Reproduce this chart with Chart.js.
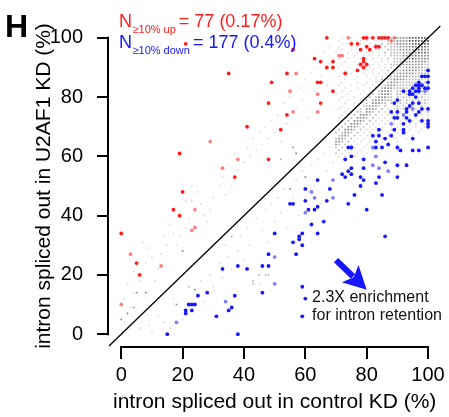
<!DOCTYPE html>
<html>
<head>
<meta charset="utf-8">
<script src="https://cdn.jsdelivr.net/npm/chart.js@4.4.0/dist/chart.umd.min.js"></script>
<style>
  html, body { margin: 0; padding: 0; background: #fff; }
  canvas { display: block; }
</style>
</head>
<body>
<canvas id="myChart" width="449" height="417"></canvas>
<script>
const xTicks = [0, 20, 40, 60, 80, 100];
const yTicks = [0, 20, 40, 60, 80, 100];

// [control KD %, U2AF1 KD %]
const upPoints = [[21,98],[19,61],[20,48],[17,42],[19,40],[0,34],[5,24],[6,20],[35,88],[41,70],[48,78],[49,85],[52,69],[54,74],[54,88],[56,96],[63,93],[64,85],[65,85],[65,92],[65,78],[67,100],[67,90],[69,92],[69,90],[69,82],[73,88],[75,98],[77,98],[77,89],[78,91],[79,93],[79,92],[79,90],[80,91],[79,100],[80,100],[82,100],[84,100],[85,100],[86,100],[87,100],[80,97],[83,97],[84,97],[81,96],[78,96],[48,59],[37,53]];
const upPointsFaint = [[29,65],[24,42],[24,36],[23,35],[3,27],[13,23],[0,10],[38,59],[33,56],[57,88],[55,82],[64,81],[56,75],[64,75],[74,100],[88,99],[89,100],[71,94],[72,94]];
const downPoints = [[28,14],[25,13],[22,10],[23,10],[24,10],[21,8],[21,7],[23,8],[15,0],[31,6],
  [56,31],[59,30],[48,27],[57,27],[33,22],[38,23],[41,22],[46,23],[48,23],[59,16],[46,14],[37,13],[36,9],[35,8],[38,0],[60,12],[59,6],
  [64,52],[60,49],[68,49],[60,45],[67,45],[55,44],[56,44],[61,42],[63,42],[64,43],[66,38],[62,37],[59,34],[64,34],[50,34],[58,33],[58,32],
  [82,67],[84,67],[88,67],[86,66],[92,68],[95,66],[83,65],[74,63],[75,63],[83,63],[85,63],[87,64],[90,63],[91,62],[95,62],[97,62],[100,63],
  [75,60],[73,59],[79,59],[86,58],[90,57],[93,57],[75,56],[79,56],[74,55],[72,54],[75,54],[73,53],[78,53],[84,53],[90,53],[79,52],[83,51],
  [78,50],[76,47],[85,47],[74,44],[80,42],[86,33],
  [100,89],[100,87],[99,87],[98,87],[97,85],[100,85],[96,84],[97,84],[98,84],[95,83],[97,83],[99,83],[100,83],[92,82],[94,82],[96,82],
  [97,82],[95,81],[94,81],[96,80],[90,79],[89,78],[95,78],[97,78],[94,77],[93,76],[98,76],[88,75],[90,75],[93,75],[96,74],[97,75],
  [100,76],[93,73],[94,72],[98,72],[100,72],[100,71],[100,70],[89,73],[90,73],[92,71],[84,69],[89,69],[92,69]];
const downPointsFaint = [[18,4],[50,26],[50,17],[34,11],[62,48],[63,46],[60,41],[69,52],[69,46],[82,63],[83,60],[82,57],[84,56],[87,55],[99,82],[95,76],[92,74],[88,71]];

// unchanged introns: [control, U2AF1, shade 1-4]
const otherPoints = [[1,4,1],[2,7,3],[0,5,3],[1,12,1],[3,9,1],[4,9,3],[4,14,1],[5,14,3],[8,14,3],[2,17,1],[6,18,1],[4,21,1],[8,24,1],
  [10,26,1],[7,31,1],[9,29,1],[12,22,1],[11,18,1],[13,27,1],[15,30,1],[14,33,1],[16,37,1],[17,34,1],[18,30,1],[20,28,3],[19,33,1],
  [21,36,1],[22,39,1],[23,45,1],[21,45,1],[25,48,1],[23,50,1],[26,44,1],[27,40,1],[28,38,1],[29,42,1],[31,31,1],[30,46,1],[32,50,1],
  [33,53,1],[34,47,1],[35,57,1],[36,50,1],[37,61,1],[38,55,1],[40,58,1],[41,63,1],[42,60,1],[43,66,1],[44,62,1],[45,68,1],[46,64,1],
  [47,70,1],[48,66,1],[49,72,1],[50,68,1],[51,74,1],[52,65,1],[53,78,1],[54,71,1],[55,80,1],[56,63,3],[57,76,1],[58,83,1],[59,79,1],
  [60,86,1],[61,73,1],[62,88,1],[63,82,1],[64,90,1],[65,87,1],[66,95,1],[67,84,1],[68,97,1],[69,93,1],[52,59,2],[57,61,3],
  [6,2,1],[9,3,1],[10,1,1],[12,6,1],[14,4,1],[16,2,1],[18,10,3],[17,12,1],[20,5,1],[24,15,3],[26,18,1],[27,11,1],[29,20,1],[30,16,1],
  [32,24,1],[33,19,1],[35,26,1],[34,30,1],[36,22,1],[38,28,1],[39,33,1],[40,25,1],[41,36,1],[42,30,1],[43,18,2],[45,20,2],[47,20,2],
  [43,17,2],[45,17,1],[44,39,1],[46,35,1],[47,42,1],[48,31,1],[49,44,1],[50,38,1],[51,46,1],[52,41,1],[53,49,1],[54,36,1],[55,49,3],
  [56,46,1],[57,52,1],[58,40,1],[59,55,1],[60,53,3],[61,48,1],[62,57,1],[63,50,1],[64,59,1],[65,44,1],[66,61,1],[67,55,1],[68,63,1],
  [69,58,1],[22,16,2],[36,33,2],[48,20,2]];

// crowded corner: one row per U2AF1 value (100 down to 60), one char per control value (70..100)
const cornerStartX = 70;
const cornerTopY = 100;
const cornerRows = [
  "..1..1..1..1.1.12.2233334444445",
  ".1...1..1.1..1.1.22233334444445",
  "..1.1...1..1.1.2.22233333444444",
  ".1...1.1..1.1.1.2.2223333444443",
  "..1..1...1.1.1.1.22223333344433",
  "1...1..1..1.1.1.2.2222333334443",
  "..1...1..1.1..1.1.2222333343333",
  ".1..1...1.1.1..1.2.222233433333",
  "...1..1...1..1.1.1.222233333332",
  "..1....1.1..1.1.1.2222333333322",
  ".1..1...1..1..1.1.2.22233333322",
  "...1...1..1.1..1.2.222333332222",
  "..1..1...1..1.1.1.2223333322222",
  ".1.....1..1..1.1.22233332222221",
  "...1..1....1.1.2.22333322222212",
  "..1....1..1..1.2.23332222222121",
  ".1...1...1..1.2.2333222222212121",
  "...1...1...1.2.2333222221212121",
  "..1..1...1..2.23332.22212121212",
  "1...1...1.1.2.23332.22121212121",
  "..1...1..1.2.233322.21212121211",
  ".1..1...1.2.2333222.12121212121",
  "...1..1.2.2.33322.2.1212121.121",
  "..1....2.223332.2..1212121.1211",
  ".1..1.2.2.3332.2.1.121211.1.211",
  "...1.2.22.332.2.1.1.21.1.1.1.12",
  "..1.2.2.3332.2.1.1.12.1.1.1.1.1",
  ".1.2.2.3332.2.1.1.1.1.1.1.1.1.1",
  "..2.2.3332.2.1.1.1.1.1.1.1.1.1.",
  ".2.2.3332.2.1.1.1..1.1..1.1..1.",
  "2.2.3332.2.1.1.1..1.1..1..1..1.",
  ".2.3332.2.1.1..1..1..1..1...1..",
  "2.2332.2.1.1..1..1..1..1...1...",
  ".2332.2.1.1..1...1...1...1.....",
  "2332.2.1.1..1..1...1...1.......",
  "332.2.1.1..1...1....1..........",
  "32.2.1.1..1...1.....1..........",
  "2.2.1.1..1...1.................",
  ".2.1.1..1...1..................",
  "2.1.1..1..1....................",
  ".1.1..1..1....................."
];

const diagonal = [-4, 104];
const arrowFrom = [70, 25];
const arrowTo = [80, 15];
const noteLines = ['2.3X enrichment', 'for intron retention'];
const notePos = [[62.2, 12.5], [62.2, 6.1]];

const FONT = '"Liberation Sans", Arial, Helvetica, sans-serif';
const RED = 'rgb(255,28,28)';
const RED_FAINT = 'rgba(255,28,28,0.55)';
const BLUE = 'rgb(22,22,255)';
const BLUE_FAINT = 'rgba(22,22,255,0.55)';
const grayShades = ['rgba(0,0,0,0)', 'rgba(0,0,0,0.13)', 'rgba(0,0,0,0.28)', 'rgba(0,0,0,0.46)', 'rgba(0,0,0,0.64)', 'rgba(0,0,0,0.8)'];

function toXY(list) {
    return list.map(p => ({x: p[0], y: p[1]}));
}

let grayData = [];
let grayColors = [];
otherPoints.forEach(p => {
    grayData.push({x: p[0], y: p[1]});
    grayColors.push(grayShades[p[2]]);
});
cornerRows.forEach((row, r) => {
    for (let i = 0; i < row.length && i <= 30; i++) {
        const c = row[i];
        if (c === '.') continue;
        grayData.push({x: cornerStartX + i, y: cornerTopY - r});
        grayColors.push(grayShades[+c]);
    }
});

// range-frame axes, panel letter, counts, arrow and note
const extras = {
    id: 'extras',
    afterDraw(chart) {
        const ctx = chart.ctx;
        const xs = chart.scales.x, ys = chart.scales.y;
        const area = chart.chartArea;
        ctx.save();

        ctx.strokeStyle = '#000';
        ctx.lineWidth = 2;
        ctx.beginPath();
        ctx.moveTo(area.left - 1, ys.getPixelForValue(0) + 1);
        ctx.lineTo(area.left - 1, ys.getPixelForValue(100) - 1);
        ctx.moveTo(xs.getPixelForValue(0) - 1, area.bottom + 1);
        ctx.lineTo(xs.getPixelForValue(100) + 1, area.bottom + 1);
        ctx.stroke();

        ctx.fillStyle = '#000';
        ctx.font = 'bold 32px ' + FONT;
        ctx.textBaseline = 'alphabetic';
        ctx.textAlign = 'left';
        ctx.fillText('H', 5, 37);

        function countLine(color, sub, rest, y) {
            ctx.fillStyle = color;
            ctx.font = '18px ' + FONT;
            ctx.fillText('N', 119, y);
            let x = 119 + ctx.measureText('N').width + 0.5;
            ctx.font = '11px ' + FONT;
            ctx.fillText(sub, x, y + 6);
            x += ctx.measureText(sub).width + 3;
            ctx.font = '18px ' + FONT;
            ctx.fillText(rest, x, y);
        }
        countLine(RED, '\u226510% up', '= 77 (0.17%)', 27);
        countLine(BLUE, '\u226510% down', '= 177 (0.4%)', 48);

        // arrow
        const x0 = xs.getPixelForValue(arrowFrom[0]), y0 = ys.getPixelForValue(arrowFrom[1]);
        const x1 = xs.getPixelForValue(arrowTo[0]), y1 = ys.getPixelForValue(arrowTo[1]);
        const ang = Math.atan2(y1 - y0, x1 - x0);
        const headLen = 23, headW = 12;
        const bx = x1 - headLen * Math.cos(ang), by = y1 - headLen * Math.sin(ang);
        ctx.strokeStyle = BLUE;
        ctx.fillStyle = BLUE;
        ctx.lineWidth = 6;
        ctx.beginPath();
        ctx.moveTo(x0, y0);
        ctx.lineTo(bx + 4 * Math.cos(ang), by + 4 * Math.sin(ang));
        ctx.stroke();
        ctx.beginPath();
        ctx.moveTo(x1, y1);
        ctx.lineTo(bx + headW * Math.sin(ang), by - headW * Math.cos(ang));
        ctx.lineTo(bx + 5 * Math.cos(ang), by + 5 * Math.sin(ang));
        ctx.lineTo(bx - headW * Math.sin(ang), by + headW * Math.cos(ang));
        ctx.closePath();
        ctx.fill();

        ctx.fillStyle = '#111';
        ctx.font = '16px ' + FONT;
        ctx.textBaseline = 'middle';
        noteLines.forEach((t, i) => {
            ctx.fillText(t, xs.getPixelForValue(notePos[i][0]), ys.getPixelForValue(notePos[i][1]));
        });
        ctx.restore();
    }
};

const ctx = document.getElementById('myChart').getContext('2d');
const myChart = new Chart(ctx, {
    type: 'scatter',
    data: {
        datasets: [
            {data: toXY(upPoints), backgroundColor: RED, pointRadius: 1.9, borderWidth: 0},
            {data: toXY(upPointsFaint), backgroundColor: RED_FAINT, pointRadius: 1.9, borderWidth: 0},
            {data: toXY(downPoints), backgroundColor: BLUE, pointRadius: 1.9, borderWidth: 0},
            {data: toXY(downPointsFaint), backgroundColor: BLUE_FAINT, pointRadius: 1.9, borderWidth: 0},
            {
                type: 'line',
                data: diagonal.map(v => ({x: v, y: v})),
                borderColor: '#000',
                borderWidth: 1.3,
                pointRadius: 0,
                fill: false,
                clip: false
            },
            {data: grayData, backgroundColor: grayColors, pointStyle: 'rect', pointRadius: 1.2, borderWidth: 0}
        ]
    },
    options: {
        responsive: false,
        animation: false,
        devicePixelRatio: 1,
        layout: {padding: {top: 13, right: 7, left: 0, bottom: 0}},
        plugins: {legend: {display: false}, tooltip: {enabled: false}},
        scales: {
            x: {
                type: 'linear',
                min: -4,
                max: 104,
                afterFit(scale) { scale.height = 71; },
                afterBuildTicks(scale) { scale.ticks = xTicks.map(v => ({value: v})); },
                border: {display: false},
                grid: {drawOnChartArea: false, color: '#000', lineWidth: 2, tickLength: 13},
                ticks: {color: '#000', font: {family: FONT, size: 20}, padding: 4, maxRotation: 0},
                title: {
                    display: true,
                    text: 'intron spliced out in control KD (%)',
                    color: '#000',
                    font: {family: FONT, size: 21},
                    padding: {top: 0, bottom: 2}
                }
            },
            y: {
                type: 'linear',
                min: -4,
                max: 104,
                afterFit(scale) { scale.width = 109; },
                afterBuildTicks(scale) { scale.ticks = yTicks.map(v => ({value: v})); },
                border: {display: false},
                grid: {drawOnChartArea: false, color: '#000', lineWidth: 2, tickLength: 12},
                ticks: {color: '#000', font: {family: FONT, size: 20}, padding: 14},
                title: {
                    display: true,
                    text: 'intron spliced out in U2AF1 KD (%)',
                    color: '#000',
                    font: {family: FONT, size: 21},
                    padding: {top: 32, bottom: 0}
                }
            }
        }
    },
    plugins: [extras]
});
</script>
</body>
</html>
